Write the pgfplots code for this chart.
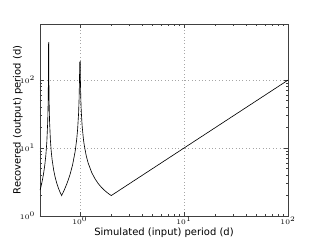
\documentclass[border=0pt]{standalone}
\usepackage{pgfplots}
\pgfplotsset{compat=1.18}
\usepackage{fontspec}
\setmainfont{DejaVu Sans}
\begin{document}
\begin{tikzpicture}[x=1cm,y=1cm]
\useasboundingbox (0,0) rectangle (8,6);
\begin{axis}[
  at={(1cm,0.6cm)}, anchor=south west,
  scale only axis, width=6.2cm, height=4.8cm,
  xmode=log, ymode=log,
  xmin=0.413, xmax=100, ymin=1, ymax=670,
  xtick={1,10,100}, ytick={1,10,100},
  grid=major,
  major grid style={gray!70, dotted, line width=0.4pt},
  axis line style={black!75, line width=0.6pt},
  tick style={black!75, line width=0.4pt},
  major tick length=3pt, minor tick length=1.6pt,
  tick align=inside,
  xtick pos=both, ytick pos=both,
  tick label style={font=\fontsize{5}{6}\selectfont},
  xticklabel style={yshift=3pt},
  label style={font=\fontsize{7.1}{8.5}\selectfont},
  xlabel={Simulated (input) period (d)},
  ylabel={Recovered (output) period (d)},
  xlabel style={at={(axis description cs:0.5,-0.085)}, anchor=center},
  ylabel style={at={(axis description cs:-0.089,0.5)}, anchor=center},
]
\addplot[black, line width=0.45pt] coordinates {
(0.414,2.407)(0.42,2.625)(0.43,3.071)(0.44,3.667)(0.45,4.5)(0.46,5.75)(0.47,7.833)(0.48,12)(0.49,24.5)(0.495,49.5)(0.498,124.5)(0.4993,356.6)
(0.5007,357.6)(0.502,125.5)(0.505,50.5)(0.51,25.5)(0.52,13)(0.53,8.833)(0.54,6.75)(0.56,4.667)(0.58,3.625)(0.60,3.0)(0.62,2.583)(0.64,2.286)(0.6667,2.0)
(0.7,2.333)(0.75,3.0)(0.8,4.0)(0.85,5.667)(0.9,9)(0.93,13.29)(0.95,19)(0.97,32.33)(0.98,49)(0.99,99)(0.9946,184.2)
(1.0054,186.2)(1.01,101)(1.02,51)(1.03,34.33)(1.05,21)(1.08,13.5)(1.1,11)(1.15,7.667)(1.2,6)(1.3,4.333)(1.4,3.5)(1.5,3)(1.6,2.667)(1.7,2.429)(1.8,2.25)(1.9,2.111)(2,2)
(100,100)
};
\end{axis}
\end{tikzpicture}
\end{document}
